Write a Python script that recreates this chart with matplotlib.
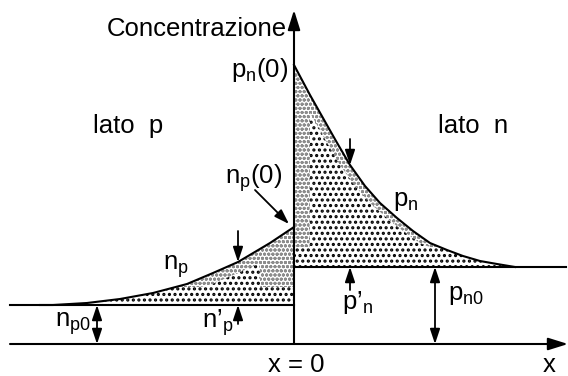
import numpy as np
import matplotlib
matplotlib.use("Agg")
import matplotlib.pyplot as plt
from matplotlib.patches import FancyArrowPatch

plt.rcParams['font.family'] = ['Liberation Sans', 'DejaVu Sans']
plt.rcParams['mathtext.fontset'] = 'custom'
plt.rcParams['mathtext.rm'] = 'Liberation Sans'
plt.rcParams['mathtext.it'] = 'Liberation Sans'
plt.rcParams['mathtext.default'] = 'regular'

# equilibrium minority concentrations
n_p0 = 3.9
p_n0 = 7.7

# electrons in the p side (x < 0)
np_x = [-25.4, -24.1, -20.7, -17.4, -14.1, -10.7, -8.1, -5.6, -2.4, 0.0]
np_c = [3.9, 3.9, 4.1, 4.5, 5.1, 6.0, 7.1, 8.2, 10.1, 11.7]

# holes in the n side (x > 0)
pn_x = [0.0, 1.6, 2.9, 4.2, 5.6, 7.1, 8.6, 10.3, 11.9, 13.6, 15.3, 16.9, 18.6, 20.3, 22.1]
pn_c = [27.9, 24.9, 22.6, 20.3, 17.9, 15.8, 14.1, 12.6, 11.3, 10.1, 9.4, 8.8, 8.3, 8.0, 7.7]

# positions of the marker arrows
x_excess_p = -5.6
x_excess_n = 5.6
x_np0_arrow = -19.7
x_pn0_arrow = 14.1

LW = 1.5
FS = 18.5

fig = plt.figure(figsize=(5.68, 3.76), dpi=100)
ax = fig.add_axes([0, 0, 1, 1])
ax.set_xlim(-29.4, 27.4)
ax.set_ylim(-3.2, 34.4)
ax.axis('off')

np_x_a = np.array(np_x); np_c_a = np.array(np_c)
pn_x_a = np.array(pn_x); pn_c_a = np.array(pn_c)


def shade(x, lo, hi, color, hatch, hlw, z):
    plt.rcParams['hatch.linewidth'] = hlw
    coll = ax.fill_between(x, lo, hi, facecolor='white', edgecolor=color,
                           hatch=hatch, linewidth=0, zorder=z)
    if hasattr(coll, 'set_hatch_linewidth'):
        coll.set_hatch_linewidth(hlw)
    return coll


# --- shaded excess-carrier areas ---
# light dotted areas
shade(np_x_a, n_p0, np_c_a, '#8c8c8c', 'oooo', 1.0, 1)
shade(pn_x_a, p_n0, pn_c_a, '#8c8c8c', 'oooo', 1.0, 1)

# dark dotted areas
xl = np.linspace(np_x[0], 0, 400)
cl = np.interp(xl, np_x_a, np_c_a)
band_l = np.minimum(n_p0 + 1.8, cl)
shift_l = np.where(xl <= -3.4, np.interp(xl - 2.5, np_x_a, np_c_a, left=n_p0), n_p0)
top_l = np.minimum(np.maximum(band_l, shift_l), cl)
shade(xl, n_p0, top_l, 'black', '...', 1.5, 2)

xr = np.linspace(0, pn_x[-1], 400)
cr = np.interp(xr, pn_x_a, pn_c_a)
band_r = np.minimum(p_n0 + 2.0, cr)
shift_r = np.where(xr >= 1.6, np.interp(xr + 1.0, pn_x_a, pn_c_a, right=p_n0), p_n0)
top_r = np.minimum(np.maximum(band_r, shift_r), cr)
shade(xr, p_n0, top_r, 'black', '...', 1.5, 2)

# --- lines ---
ax.plot(np_x_a, np_c_a, color='black', lw=LW, zorder=4)
ax.plot(pn_x_a, pn_c_a, color='black', lw=LW, zorder=4)
ax.plot([-28.4, 0], [n_p0, n_p0], color='black', lw=LW, zorder=4)
ax.plot([0, 27.2], [p_n0, p_n0], color='black', lw=LW, zorder=4)


def arrow(p0, p1, style='-|>', ms=15, hl=0.6, hw=0.2, lw=1.3):
    st = f"{style},head_length={hl},head_width={hw}"
    a = FancyArrowPatch(p0, p1, arrowstyle=st, mutation_scale=ms, color='black',
                        lw=lw, shrinkA=0, shrinkB=0, zorder=5)
    ax.add_patch(a)


# axes
arrow((-28.4, 0), (27.4, 0), ms=15, hl=0.8, hw=0.25, lw=LW)
arrow((0, 0), (0, 33.4), ms=15, hl=0.8, hw=0.25, lw=LW)

# excess-carrier markers
np_at = float(np.interp(x_excess_p, np_x_a, np_c_a))
pn_at = float(np.interp(x_excess_n, pn_x_a, pn_c_a))
arrow((x_excess_p, np_at + 3.1), (x_excess_p, np_at))
arrow((x_excess_p, n_p0 - 1.9), (x_excess_p, n_p0))
arrow((x_excess_n, pn_at + 2.6), (x_excess_n, pn_at))
arrow((x_excess_n, p_n0 - 2.3), (x_excess_n, p_n0))

# equilibrium levels
arrow((x_np0_arrow, 0), (x_np0_arrow, n_p0), style='<|-|>')
arrow((x_pn0_arrow, 0), (x_pn0_arrow, p_n0), style='<|-|>')

# pointer to n_p(0)
arrow((-3.9, 15.4), (-0.5, np_c[-1] + 0.3))

# --- labels ---
txt = dict(fontsize=FS, color='black', va='baseline', zorder=6)
ax.text(-0.7, 30.8, "Concentrazione", ha='right', **txt)
ax.text(-0.6, 26.7, "$p_n$(0)", ha='right', **txt)
ax.text(-20.1, 21.1, "lato  p", ha='left', **txt)
ax.text(14.4, 21.1, "lato  n", ha='left', **txt)
ax.text(-6.9, 16.0, "$n_p$(0)", ha='left', **txt)
ax.text(-13.1, 7.4, "$n_p$", ha='left', **txt)
ax.text(9.9, 13.8, "$p_n$", ha='left', **txt)
ax.text(-23.9, 1.7, "$n_{p0}$", ha='left', **txt)
ax.text(-9.2, 1.6, "n\u2019$_p$", ha='left', **txt)
ax.text(4.8, 3.5, "p\u2019$_n$", ha='left', **txt)
ax.text(15.4, 4.4, "$p_{n0}$", ha='left', **txt)
ax.text(-2.6, -2.8, "x = 0", ha='left', **txt)
ax.text(24.9, -2.8, "x", ha='left', **txt)

fig.savefig("out.png", dpi=100)
